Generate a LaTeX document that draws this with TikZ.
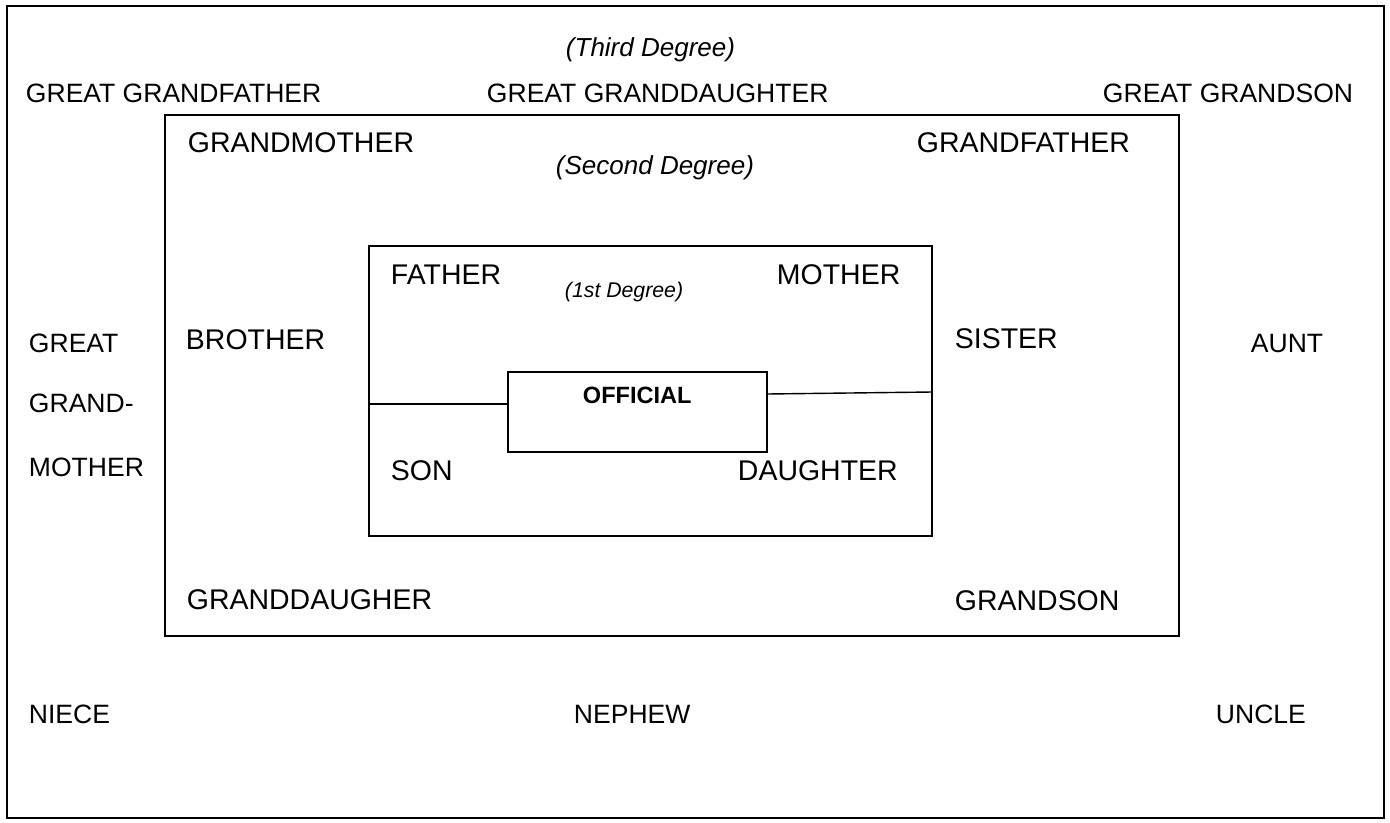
\documentclass[tikz,border=0pt]{standalone}
\usepackage{fontspec}
\setmainfont{Liberation Sans}
\usepackage{xcolor}

\tikzset{
  rel/.style={anchor=base west, inner sep=0pt, font=\fontsize{15.1}{17}\selectfont},
  relbig/.style={anchor=base west, inner sep=0pt, font=\fontsize{16.2}{19}\selectfont},
  degree/.style={anchor=base west, inner sep=0pt, font=\fontsize{14.8}{17}\selectfont\itshape},
  link/.style={line width=0.8pt}
}

\begin{document}
\begin{tikzpicture}[x=0.02cm, y=-0.02cm, line width=1.1pt]
    \useasboundingbox (0,0) rectangle (1390,822);

    % Third degree - outer frame
    \draw (7,6) rectangle (1384,818);
    \node[degree] (third) at (565,56) {(Third Degree)};
    \node[rel] (ggfather) at (25,102) {GREAT GRANDFATHER};
    \node[rel] (ggdaughter) at (486,102) {GREAT GRANDDAUGHTER};
    \node[rel] (ggson) at (1102,102) {GREAT GRANDSON};
    \node[rel] (ggm1) at (28,352) {GREAT};
    \node[rel] (ggm2) at (28,412) {GRAND-};
    \node[rel] (ggm3) at (28,476) {MOTHER};
    \node[rel] (aunt) at (1250,352) {AUNT};
    \node[rel] (niece) at (28,723) {NIECE};
    \node[rel] (nephew) at (573,723) {NEPHEW};
    \node[rel] (uncle) at (1215,723) {UNCLE};

    % Second degree
    \draw (165,115) rectangle (1179,636);
    \node[degree] (second) at (555,174) {(Second Degree)};
    \node[relbig] (gmother) at (187,152) {GRANDMOTHER};
    \node[relbig] (gfather) at (916,152) {GRANDFATHER};
    \node[relbig] (brother) at (185,349) {BROTHER};
    \node[relbig] (sister) at (954,348) {SISTER};
    \node[relbig] (gdaughter) at (186,609) {GRANDDAUGHER};
    \node[relbig] (gson) at (954,610) {GRANDSON};

    % First degree
    \draw (369,246) rectangle (932,536);
    \node[anchor=base west, inner sep=0pt, font=\fontsize{12.1}{14}\selectfont\itshape] (first) at (564,297) {(1st Degree)};
    \node[relbig] (father) at (390,284) {FATHER};
    \node[relbig] (mother) at (776,284) {MOTHER};
    \node[relbig] (son) at (390,480) {SON};
    \node[relbig] (daughter) at (737,480) {DAUGHTER};

    % Official
    \draw (508,372) rectangle (767,452);
    \node[anchor=base west, inner sep=0pt, font=\fontsize{13.4}{16}\selectfont\bfseries] (official) at (582,403) {OFFICIAL};

    % Links
    \coordinate (leftend) at (369,404);
    \coordinate (offwest) at (508,404);
    \coordinate (offeast) at (767,394);
    \coordinate (rightend) at (932,392);
    \draw[link] (leftend) -- (offwest);
    \draw[link] (offeast) -- (rightend);
\end{tikzpicture}
\end{document}
